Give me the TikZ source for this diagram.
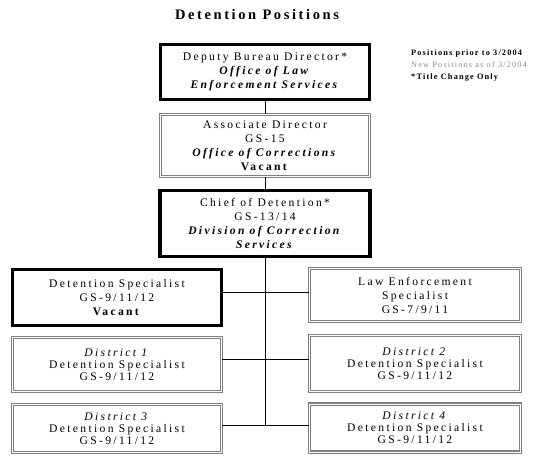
\documentclass[tikz,border=0pt]{standalone}
\usepackage{fontspec}
\setmainfont{Liberation Serif}[LetterSpace=20]
\newfontfamily\legfont{Liberation Serif}[LetterSpace=14]
\newfontfamily\titfont{Liberation Serif}[LetterSpace=18]
\tikzset{
  thickbox/.style={draw=black, line width=3.4pt, align=center, inner sep=0pt, font=\fontsize{11.6}{14}\selectfont},
  dblbox/.style={draw=black!50, double=white, double distance=0.9pt, line width=1.4pt, align=center, inner sep=0pt, font=\fontsize{11.6}{14}\selectfont},
  distbox/.style={dblbox, font=\fontsize{11.6}{12}\selectfont},
  link/.style={draw=black, line width=0.7pt},
}
\begin{document}
\begin{tikzpicture}[x=1pt, y=-1pt]
\useasboundingbox (0,0) rectangle (560,457);
\node (title) at (257,15) {\titfont\fontsize{14.5}{16}\selectfont\bfseries Detention Positions};
\node[anchor=west, align=left, inner sep=0pt, font=\legfont\fontsize{8.3}{12}\selectfont] (legend) at (411,66)
  {\textbf{Positions prior to 3/2004}\\ \textcolor{black!45}{New Positions as of 3/2004}\\ \textbf{*Title Change Only}};

\node[thickbox, minimum width=209pt, minimum height=55pt] (b1) at (265,72)
  {Deputy Bureau Director*\\ \textbf{\textit{Office of Law}}\\ \textbf{\textit{Enforcement Services}}};
\node[dblbox, minimum width=209pt, minimum height=62pt] (b2) at (265,145.5)
  {Associate Director\\ GS-15\\ \textbf{\textit{Office of Corrections}}\\ \textbf{Vacant}};
\node[thickbox, minimum width=210pt, minimum height=66pt] (b3) at (265,223.5)
  {Chief of Detention*\\ GS-13/14\\ \textbf{\textit{Division of Correction}}\\ \textbf{\textit{Services}}};
\node[thickbox, minimum width=209pt, minimum height=56pt] (b4) at (117,297.5)
  {Detention Specialist\\ GS-9/11/12\\ \textbf{Vacant}};
\node[dblbox, minimum width=211pt, minimum height=53pt] (b5) at (415,295)
  {Law Enforcement\\ Specialist\\ GS-7/9/11};
\node[distbox, minimum width=209pt, minimum height=54pt] (b6) at (117,364.5)
  {\textit{District 1}\\ Detention Specialist\\ GS-9/11/12};
\node[distbox, minimum width=211pt, minimum height=56pt] (b7) at (415,363.5)
  {\textit{District 2}\\ Detention Specialist\\ GS-9/11/12};
\node[distbox, minimum width=209pt, minimum height=48pt] (b8) at (117,428.5)
  {\textit{District 3}\\ Detention Specialist\\ GS-9/11/12};
\node[distbox, minimum width=211pt, minimum height=48pt] (b9) at (415,428)
  {\textit{District 4}\\ Detention Specialist\\ GS-9/11/12};

\coordinate (j1) at (265,292);
\coordinate (j2) at (265,359);
\coordinate (j3) at (265,425);
\draw[link] (b1.south) -- (b2.north);
\draw[link] (b2.south) -- (b3.north);
\draw[link] (b3.south) -- (j3);
\draw[link] (b4.east |- j1) -- (b5.west |- j1);
\draw[link] (b6.east |- j2) -- (b7.west |- j2);
\draw[link] (b8.east |- j3) -- (b9.west |- j3);
\end{tikzpicture}
\end{document}
